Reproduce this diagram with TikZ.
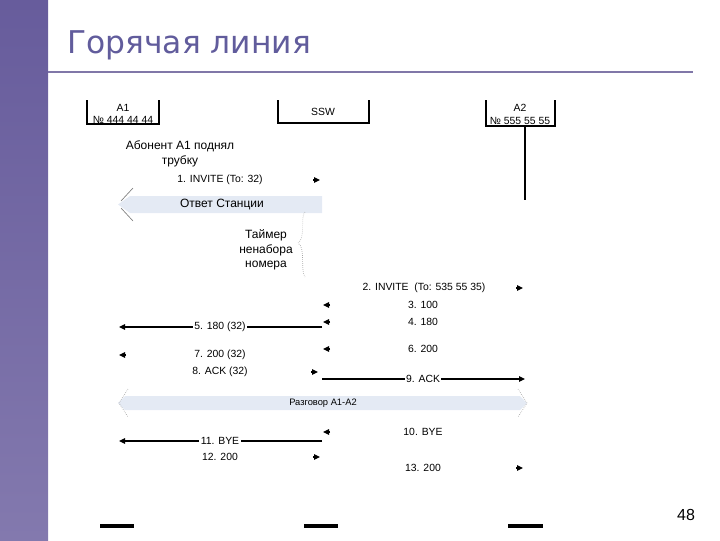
\documentclass[tikz,border=0pt]{standalone}
\usepackage{fontspec}
\setmainfont{Liberation Sans}
\newfontfamily\titlefont{DejaVu Sans}
\usetikzlibrary{arrows.meta}
\definecolor{barTop}{HTML}{675C9C}
\definecolor{barBot}{HTML}{8379AE}
\definecolor{titleCol}{HTML}{615C9C}
\definecolor{ruleCol}{HTML}{8077A8}
\definecolor{bandFill}{HTML}{E4EAF4}
\tikzset{
  box/.style={line width=0.8pt},
  lbl/.style={font=\fontsize{7.8}{9}\selectfont, inner sep=1pt},
  lblw/.style={lbl, fill=white},
  big/.style={font=\fontsize{9}{11}\selectfont, inner sep=0pt, align=center},
  tip/.style={line width=0.8pt, -{Triangle[length=4.5pt,width=4.2pt]}},
  msgline/.style={line width=0.8pt, -{Triangle[length=4.5pt,width=4.2pt]}},
  faint/.style={gray!70, line width=0.5pt, densely dotted},
}
\begin{document}
\begin{tikzpicture}[x=0.75pt,y=-0.75pt]
\useasboundingbox (0,0) rectangle (720,540);
% left bar
\shade[top color=barTop, bottom color=barBot] (0,0) rectangle (48,540);
% title
\node[anchor=base west, text=titleCol, font=\titlefont\fontsize{23.5}{28}\selectfont, inner sep=0pt] (title) at (67,53) {Горячая линия};
\draw[ruleCol, line width=1.6pt] (48,72) -- (693,72);
% boxes
\draw[box] (87,100) -- (87,124) -- (159,124) -- (159,100);
\node[lbl] (a1n) at (123,108) {А1};
\node[lbl] (a1p) at (123,120) {№ 444 44 44};
\draw[box] (278,100) -- (278,123) -- (369,123) -- (369,100);
\node[lbl] (ssw) at (323,112) {SSW};
\draw[box] (486,100) -- (486,126) -- (555,126) -- (555,100);
\node[lbl] (a2n) at (520,108) {А2};
\node[lbl] (a2p) at (520,121) {№ 555 55 55};
\coordinate (a2top) at (525,126);
\coordinate (a2bot) at (525,200);
\draw[line width=0.8pt] (a2top) -- (a2bot);
% caption
\node[big] (lift) at (180,154) {Абонент А1 поднял\\трубку};
% 1
\node[lbl] (m1) at (220,180) {1. INVITE (To: 32)};
\coordinate (s1) at (313,180); \coordinate (t1) at (320,180);
\draw[tip] (s1) -- (t1);
% answer band
\fill[bandFill] (322,196) -- (130,196) -- (118,204.5) -- (130,213) -- (322,213) -- cycle;
\draw[gray, line width=0.5pt] (133,188) -- (121,201);
\draw[gray, line width=0.5pt] (121,208) -- (133,221);
\node[big] (ans) at (222,204.5) {Ответ Станции};
% timer
\node[big] (timer) at (266,250) {Таймер\\ненабора\\номера};
\draw[faint] (305,212) .. controls (300,216) and (306,238) .. (298,243) .. controls (306,248) and (300,270) .. (305,277);
% 2
\node[lbl] (m2) at (424,288) {2. INVITE \ (To: 535 55 35)};
\coordinate (s2) at (516,288); \coordinate (t2) at (523,288);
\draw[tip] (s2) -- (t2);
% 3
\node[lbl] (m3) at (423,305) {3. 100};
\coordinate (s3) at (330,305); \coordinate (t3) at (323,305);
\draw[tip] (s3) -- (t3);
% 4
\node[lbl] (m4) at (423,322) {4. 180};
\coordinate (s4) at (330,322); \coordinate (t4) at (323,322);
\draw[tip] (s4) -- (t4);
% 5
\coordinate (s5) at (322,327); \coordinate (t5) at (119,327);
\draw[msgline] (s5) -- (t5);
\node[lblw] (m5) at (220,327) {5. 180 (32)};
% 6
\node[lbl] (m6) at (423,349) {6. 200};
\coordinate (s6) at (330,349); \coordinate (t6) at (323,349);
\draw[tip] (s6) -- (t6);
% 7
\node[lbl] (m7) at (220,355) {7. 200 (32)};
\coordinate (s7) at (126,355); \coordinate (t7) at (119,355);
\draw[tip] (s7) -- (t7);
% 8
\node[lbl] (m8) at (220,372) {8. ACK (32)};
\coordinate (s8) at (311,372); \coordinate (t8) at (318,372);
\draw[tip] (s8) -- (t8);
% 9
\coordinate (s9) at (322,379); \coordinate (t9) at (525,379);
\draw[msgline] (s9) -- (t9);
\node[lblw] (m9) at (423,379) {9. ACK};
% talk band
\fill[bandFill] (125,396) -- (520,396) -- (527,403) -- (520,410) -- (125,410) -- (118,403) -- cycle;
\draw[faint] (128,389) -- (119,403) -- (128,417);
\draw[faint] (518,389) -- (527,403) -- (518,417);
\node[lbl, font=\fontsize{7}{8}\selectfont] (talk) at (323,403) {Разговор А1-А2};
% 10
\node[lbl] (m10) at (423,432) {10. BYE};
\coordinate (s10) at (330,432); \coordinate (t10) at (323,432);
\draw[tip] (s10) -- (t10);
% 11
\coordinate (s11) at (322,441); \coordinate (t11) at (119,441);
\draw[msgline] (s11) -- (t11);
\node[lblw] (m11) at (220,441) {11. BYE};
% 12
\node[lbl] (m12) at (220,457) {12. 200};
\coordinate (s12) at (313,457); \coordinate (t12) at (320,457);
\draw[tip] (s12) -- (t12);
% 13
\node[lbl] (m13) at (423,468) {13. 200};
\coordinate (s13) at (516,468); \coordinate (t13) at (523,468);
\draw[tip] (s13) -- (t13);
% bottom bars
\draw[line width=2.4pt] (100,526) -- (134,526);
\draw[line width=2.4pt] (304,526) -- (338,526);
\draw[line width=2.4pt] (508,526) -- (543,526);
% page number
\node[font=\fontsize{12}{14}\selectfont, inner sep=0pt] (pg) at (686,515) {48};
\end{tikzpicture}
\end{document}
